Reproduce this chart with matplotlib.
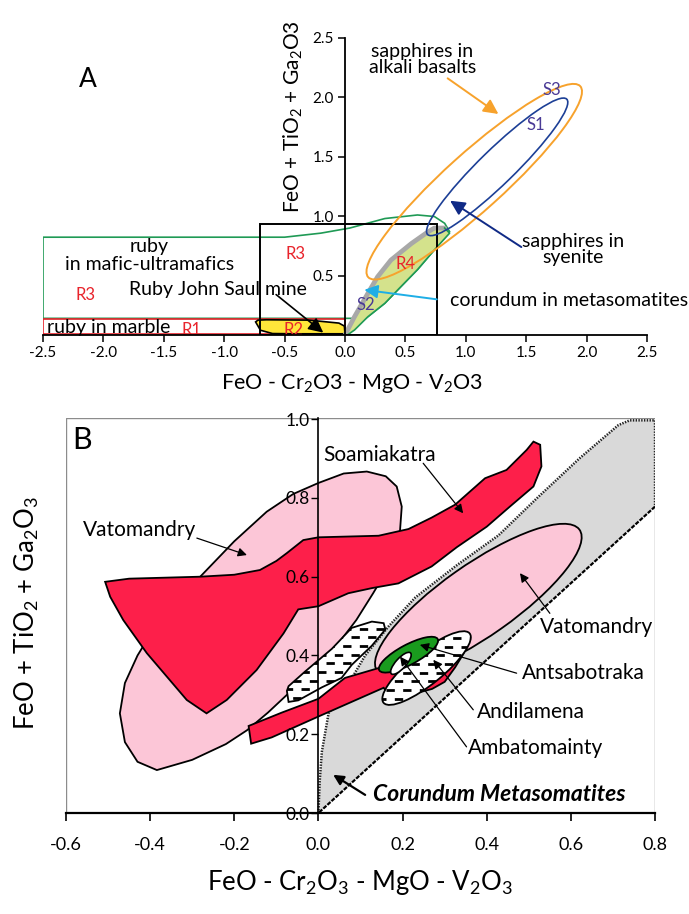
import numpy as np
import matplotlib
matplotlib.use("Agg")
import matplotlib.pyplot as plt
from matplotlib.patches import Polygon, Ellipse, Rectangle

plt.rcParams["font.family"] = ["Lato", "DejaVu Sans"]
plt.rcParams["mathtext.fontset"] = "custom"
plt.rcParams["mathtext.rm"] = "Lato"
plt.rcParams["mathtext.it"] = "Lato:italic"
plt.rcParams["mathtext.default"] = "regular"
plt.rcParams["axes.unicode_minus"] = False
plt.rcParams["lines.scale_dashes"] = False

# =========================
# PANEL A DATA
# =========================
a_xticks = [-2.5, -2.0, -1.5, -1.0, -0.5, 0.0, 0.5, 1.0, 1.5, 2.0, 2.5]
a_xlabels = ["-2.5", "-2.0", "-1.5", "-1.0", "-0.5", "0.0", "0.5", "1.0", "1.5", "2.0", "2.5"]
a_yticks = [0.5, 1.0, 1.5, 2.0, 2.5]
a_ylabels = ["0.5", "1.0", "1.5", "2.0", "2.5"]

# ruby in mafic-ultramafics (R3 field, green outline)
mafic_x = [-2.5, -2.5, -0.5, -0.2, 0.04, 0.33, 0.6, 0.74, 0.825, 0.866, 0.74, 0.6, 0.466, 0.33, 0.19, 0.17, 0.0]
mafic_y = [0.14, 0.823, 0.823, 0.857, 0.9, 0.98, 1.01, 0.997, 0.94, 0.87, 0.716, 0.55, 0.41, 0.267, 0.154, 0.14, 0.14]

# ruby in marble (R1 field)
marble_x = [-2.5, 0.0]
marble_y = [0.01, 0.135]

# John Saul mine box
saul_x = [-0.7, 0.76]
saul_y = [0.0, 0.935]

# R2 field (yellow)
r2_x = [-0.74, -0.72, -0.65, -0.3, -0.05, -0.005, 0.0, -0.4, -0.6, -0.7]
r2_y = [0.11, 0.125, 0.128, 0.125, 0.1, 0.075, 0.01, 0.01, 0.012, 0.04]

# corundum in metasomatites (R4 / S2 band)
band_up_x = [0.0, 0.079, 0.19, 0.27, 0.38, 0.55, 0.69, 0.74, 0.825, 0.866]
band_up_y = [0.0, 0.154, 0.351, 0.49, 0.63, 0.77, 0.87, 0.9, 0.9, 0.857]
band_lo_x = [0.74, 0.6, 0.466, 0.33, 0.19, 0.079, 0.02]
band_lo_y = [0.716, 0.55, 0.41, 0.267, 0.154, 0.042, 0.0]

# sapphire fields (ellipses: centre x, centre y, length, width, angle)
s1_field = [1.26, 1.415, 1.62, 0.29, 44.7]
s3_field = [1.07, 1.29, 2.38, 0.48, 42.5]

# =========================
# PANEL B DATA
# =========================
b_xticks = [-0.6, -0.4, -0.2, 0.0, 0.2, 0.4, 0.6, 0.8]
b_xlabels = ["-0.6", "-0.4", "-0.2", "0.0", "0.2", "0.4", "0.6", "0.8"]
b_yticks = [0.0, 0.2, 0.4, 0.6, 0.8, 1.0]
b_ylabels = ["0.0", "0.2", "0.4", "0.6", "0.8", "1.0"]

# Corundum Metasomatites band
meta_top_x = [0.0, 0.003, 0.008, 0.024, 0.071, 0.111, 0.166, 0.23, 0.33, 0.428, 0.52, 0.62, 0.713, 0.74, 0.8]
meta_top_y = [0.0, 0.08, 0.155, 0.253, 0.327, 0.4, 0.473, 0.547, 0.63, 0.705, 0.8, 0.9, 0.985, 0.997, 0.997]
meta_low_x = [0.8, 0.0]
meta_low_y = [0.778, 0.0]

# Vatomandry (left, pink)
vato_x = [-0.384, -0.43, -0.46, -0.472, -0.46, -0.43, -0.39, -0.34, -0.281, -0.2, -0.123, -0.06, 0.0, 0.06,
          0.115, 0.16, 0.186, 0.198, 0.194, 0.17, 0.13, 0.09, 0.04, 0.0, -0.075, -0.12, -0.17, -0.22, -0.3]
vato_y = [0.109, 0.13, 0.18, 0.253, 0.33, 0.4, 0.47, 0.54, 0.6, 0.69, 0.765, 0.81, 0.838, 0.862,
          0.867, 0.855, 0.829, 0.778, 0.719, 0.63, 0.558, 0.49, 0.42, 0.375, 0.3, 0.255, 0.21, 0.175, 0.135]

# Vatomandry (right, ellipse)
vato2_field = [0.38, 0.54, 0.6, 0.18, 37.0]

# Soamiakatra (red)
soam_x = [-0.507, -0.45, -0.281, -0.2, -0.139, -0.1, -0.075, -0.036, 0.0, 0.143, 0.214, 0.269, 0.325, 0.396,
          0.447, 0.495, 0.511, 0.527, 0.53, 0.511, 0.455, 0.4, 0.329, 0.269, 0.19, 0.127, 0.071, 0.0,
          -0.048, -0.083, -0.147, -0.218, -0.266, -0.313, -0.408, -0.464, -0.495]
soam_y = [0.587, 0.595, 0.6, 0.605, 0.617, 0.64, 0.66, 0.693, 0.7, 0.704, 0.721, 0.75, 0.783, 0.85,
          0.871, 0.922, 0.943, 0.935, 0.88, 0.829, 0.778, 0.727, 0.675, 0.626, 0.583, 0.571, 0.558, 0.525,
          0.517, 0.456, 0.363, 0.287, 0.253, 0.287, 0.406, 0.49, 0.549]

# lower red strip
strip_x = [-0.166, -0.16, -0.111, 0.0, 0.155, 0.175, 0.27, 0.3, 0.325, 0.345, 0.35, 0.3, 0.25, 0.2, 0.143,
           0.063, 0.0, -0.087]
strip_y = [0.221, 0.176, 0.192, 0.245, 0.318, 0.288, 0.315, 0.333, 0.37, 0.405, 0.425, 0.41, 0.39, 0.37, 0.368,
           0.343, 0.29, 0.255]

# hatched field (left)
hatch_x = [-0.075, -0.071, -0.032, 0.032, 0.079, 0.127, 0.155, 0.159, 0.127, 0.079, 0.055, 0.008, -0.048, -0.071]
hatch_y = [0.31, 0.322, 0.359, 0.417, 0.47, 0.486, 0.482, 0.466, 0.425, 0.376, 0.343, 0.319, 0.286, 0.282]

# Andilamena, Antsabotraka, Ambatomainty ellipses
andil_field = [0.257, 0.368, 0.27, 0.08, 41.0]
antsa_field = [0.214, 0.402, 0.16, 0.05, 30.0]
ambat_field = [0.196, 0.38, 0.07, 0.025, 50.0]

# =========================
# FIGURE
# =========================
fig = plt.figure(figsize=(6.89, 9.14), dpi=100)

# ---------- panel A ----------
ax = fig.add_axes([0.0624, 0.6335, 0.8766, 0.325])
ax.set_xlim(-2.5, 2.5)
ax.set_ylim(0, 2.5)
ax.spines["top"].set_visible(False)
ax.spines["right"].set_visible(False)
ax.spines["left"].set_position(("data", 0))
for s in ["left", "bottom"]:
    ax.spines[s].set_linewidth(1.3)
    ax.spines[s].set_zorder(8)
ax.xaxis.set_zorder(8)
ax.yaxis.set_zorder(8)
ax.set_xticks(a_xticks, a_xlabels)
ax.set_yticks(a_yticks, a_ylabels)
ax.tick_params(axis="both", direction="out", length=5, width=1.1, labelsize=11, pad=3)

ax.add_patch(Polygon(np.column_stack([mafic_x, mafic_y]), closed=True, fill=False,
                     edgecolor="#1f9a55", lw=1.2, zorder=2))
ax.add_patch(Rectangle((marble_x[0], marble_y[0]), marble_x[1] - marble_x[0], marble_y[1] - marble_y[0],
                       fill=False, edgecolor="#e8242c", lw=1.2, zorder=2))
ax.add_patch(Polygon(np.column_stack([r2_x, r2_y]), closed=True, facecolor="#ffe63a",
                     edgecolor="k", lw=1.2, zorder=3))
ax.add_patch(Rectangle((saul_x[0], saul_y[0]), saul_x[1] - saul_x[0], saul_y[1] - saul_y[0],
                       fill=False, edgecolor="k", lw=1.4, zorder=4))

band = Polygon(np.column_stack([band_up_x + band_lo_x, band_up_y + band_lo_y]), closed=True,
               facecolor="#d4e28c", edgecolor="none", zorder=3)
ax.add_patch(band)
ax.plot(band_up_x[:-1], band_up_y[:-1], color="#a8a8a8", lw=3.4, solid_capstyle="round", zorder=3.5)
ax.plot(band_up_x[-2:] + band_lo_x, band_up_y[-2:] + band_lo_y, color="#1f9a55", lw=1.2, zorder=3.6)

ax.add_patch(Ellipse((s3_field[0], s3_field[1]), s3_field[2], s3_field[3], angle=s3_field[4],
                     fill=False, edgecolor="#f7a22c", lw=1.4, zorder=5))
ax.add_patch(Ellipse((s1_field[0], s1_field[1]), s1_field[2], s1_field[3], angle=s1_field[4],
                     fill=False, edgecolor="#1c3f96", lw=1.2, zorder=5))

# arrows A
ax.annotate("", xy=(1.27, 1.86), xytext=(0.85, 2.16),
            arrowprops=dict(arrowstyle="-|>", color="#f7a22c", lw=1.4, mutation_scale=22,
                            shrinkA=0, shrinkB=0), zorder=6)
ax.annotate("", xy=(0.87, 1.13), xytext=(1.46, 0.74),
            arrowprops=dict(arrowstyle="-|>", color="#102a86", lw=1.4, mutation_scale=22,
                            shrinkA=0, shrinkB=0), zorder=6)
ax.annotate("", xy=(0.16, 0.38), xytext=(0.76, 0.3),
            arrowprops=dict(arrowstyle="-|>", color="#1eaee6", lw=1.4, mutation_scale=20,
                            shrinkA=0, shrinkB=0), zorder=6)
ax.annotate("", xy=(-0.18, 0.02), xytext=(-0.57, 0.34),
            arrowprops=dict(arrowstyle="-|>", color="k", lw=1.2, mutation_scale=22,
                            shrinkA=0, shrinkB=0), zorder=6)

# texts A
fs_a = 14
ax.text(-2.13, 2.15, "A", fontsize=19, ha="center", va="center")
ax.text(0.64, 2.32, "sapphires in\nalkali basalts", fontsize=fs_a, ha="center", va="center", linespacing=0.95)
ax.text(1.89, 0.72, "sapphires in\nsyenite", fontsize=fs_a, ha="center", va="center", linespacing=0.95)
ax.text(0.87, 0.29, "corundum in metasomatites", fontsize=fs_a, ha="left", va="center")
ax.text(-1.62, 0.745, "ruby", fontsize=fs_a, ha="center", va="center")
ax.text(-1.62, 0.59, "in mafic-ultramafics", fontsize=fs_a, ha="center", va="center")
ax.text(-1.05, 0.38, "Ruby John Saul mine", fontsize=fs_a, ha="center", va="center")
ax.text(-2.47, 0.065, "ruby in marble", fontsize=fs_a, ha="left", va="center")
for lx, ly, lt, lc in [(-2.15, 0.34, "R3", "#e8242c"), (-0.41, 0.68, "R3", "#e8242c"),
                       (-1.27, 0.04, "R1", "#e8242c"), (-0.43, 0.04, "R2", "#e8242c"),
                       (0.5, 0.6, "R4", "#e8242c"), (1.71, 2.06, "S3", "#4a3a96"),
                       (1.58, 1.77, "S1", "#4a3a96"), (0.175, 0.25, "S2", "#4a3a96")]:
    ax.text(lx, ly, lt, fontsize=12, color=lc, ha="center", va="center", zorder=7)

ax.text(0.512, -0.162, r"FeO - Cr$_2$O3 - MgO - V$_2$O3", transform=ax.transAxes,
        fontsize=15.5, ha="center", va="center")
ax.text(0.414, 0.734, r"FeO + TiO$_2$ + Ga$_2$O3", transform=ax.transAxes,
        fontsize=15, ha="center", va="center", rotation=90)

# ---------- panel B ----------
bx = fig.add_axes([0.0958, 0.1105, 0.8549, 0.4322])
bx.set_xlim(-0.6, 0.8)
bx.set_ylim(0, 1.003)
for s in ["top", "right"]:
    bx.spines[s].set_visible(False)
bx.spines["left"].set_position(("data", 0))
bx.spines["left"].set_linewidth(1.2)
bx.spines["bottom"].set_linewidth(1.6)
for s in ["left", "bottom"]:
    bx.spines[s].set_zorder(8)
bx.xaxis.set_zorder(8)
bx.yaxis.set_zorder(8)
bx.add_patch(Rectangle((0, 0), 1, 1, transform=bx.transAxes, fill=False, edgecolor="#8c8c8c",
                       lw=1.0, zorder=0.5))
bx.set_xticks(b_xticks, b_xlabels)
bx.set_yticks(b_yticks, b_ylabels)
bx.tick_params(axis="x", direction="out", length=6, width=1.2, labelsize=13, pad=11)
bx.tick_params(axis="y", direction="out", length=5, width=1.0, labelsize=12.5, pad=1)

meta = Polygon(np.column_stack([meta_top_x + meta_low_x, meta_top_y + meta_low_y]), closed=True,
               facecolor="#d9d9d9", edgecolor="none", zorder=1)
bx.add_patch(meta)
bx.plot(meta_top_x + [meta_low_x[0]], meta_top_y + [meta_low_y[0]], color="#222222", lw=1.8,
        dashes=(1.0, 1.0), zorder=1.2)
bx.plot(meta_low_x, meta_low_y, color="k", lw=1.6, dashes=(3.0, 1.0), zorder=1.2)

bx.add_patch(Polygon(np.column_stack([vato_x, vato_y]), closed=True, facecolor="#fcc6d7",
                     edgecolor="k", lw=1.3, zorder=2))
bx.add_patch(Ellipse((vato2_field[0], vato2_field[1]), vato2_field[2], vato2_field[3], angle=vato2_field[4],
                     facecolor="#fcc6d7", edgecolor="k", lw=1.3, zorder=2))
bx.add_patch(Polygon(np.column_stack([soam_x, soam_y]), closed=True, facecolor="#fd1f4a",
                     edgecolor="k", lw=1.3, zorder=3))
bx.add_patch(Polygon(np.column_stack([strip_x, strip_y]), closed=True, facecolor="#fd1f4a",
                     edgecolor="k", lw=1.3, zorder=3))


def add_dashes(axis, patch, x0, x1, y0, y1, step, z):
    # rows of short dashes clipped to the field outline
    for i, yy in enumerate(np.arange(y0, y1, step)):
        ln, = axis.plot([x0, x1], [yy, yy], color="k", lw=2.0,
                        linestyle=(6 * (i % 2), (6, 6)), dash_capstyle="butt", zorder=z)
        ln.set_clip_path(patch)


hatch = Polygon(np.column_stack([hatch_x, hatch_y]), closed=True, facecolor="white",
                edgecolor="k", lw=1.3, zorder=4)
bx.add_patch(hatch)
add_dashes(bx, hatch, -0.1, 0.2, 0.292, 0.5, 0.022, 4.1)

andil = Ellipse((andil_field[0], andil_field[1]), andil_field[2], andil_field[3], angle=andil_field[4],
                facecolor="white", edgecolor="k", lw=1.3, zorder=4)
bx.add_patch(andil)
add_dashes(bx, andil, 0.1, 0.4, 0.29, 0.46, 0.022, 4.1)
bx.add_patch(Ellipse((antsa_field[0], antsa_field[1]), antsa_field[2], antsa_field[3], angle=antsa_field[4],
                     facecolor="#1a9b1e", edgecolor="k", lw=1.3, zorder=5))
bx.add_patch(Ellipse((ambat_field[0], ambat_field[1]), ambat_field[2], ambat_field[3], angle=ambat_field[4],
                     facecolor="white", edgecolor="k", lw=1.2, zorder=5.5))

# arrows B
b_arrows = [((-0.17, 0.655), (-0.289, 0.698)), ((0.344, 0.761), (0.249, 0.888)),
            ((0.479, 0.609), (0.55, 0.507)), ((0.241, 0.427), (0.471, 0.355)),
            ((0.273, 0.389), (0.368, 0.262)), ((0.194, 0.397), (0.352, 0.168))]
for head, tail in b_arrows:
    bx.annotate("", xy=head, xytext=tail,
                arrowprops=dict(arrowstyle="-|>", color="k", lw=0.9, mutation_scale=13,
                                shrinkA=0, shrinkB=0), zorder=6)
bx.annotate("", xy=(0.035, 0.097), xytext=(0.111, 0.046),
            arrowprops=dict(arrowstyle="-|>", color="k", lw=1.6, mutation_scale=15,
                            shrinkA=0, shrinkB=0), zorder=6)

fs_b = 15
bx.text(-0.563, 0.947, "B", fontsize=22, ha="center", va="center")
bx.text(-0.424, 0.719, "Vatomandry", fontsize=fs_b, ha="center", va="center")
bx.text(0.011, 0.909, "Soamiakatra", fontsize=fs_b, ha="left", va="center")
bx.text(0.527, 0.473, "Vatomandry", fontsize=fs_b, ha="left", va="center")
bx.text(0.483, 0.355, "Antsabotraka", fontsize=fs_b, ha="left", va="center")
bx.text(0.376, 0.257, "Andilamena", fontsize=fs_b, ha="left", va="center")
bx.text(0.356, 0.164, "Ambatomainty", fontsize=fs_b, ha="left", va="center")
bx.text(0.13, 0.046, "Corundum Metasomatites", fontsize=16.5, ha="left", va="center",
        fontweight="bold", fontstyle="italic")

bx.text(0.5, -0.177, r"FeO - Cr$_2$O$_3$ - MgO - V$_2$O$_3$", transform=bx.transAxes,
        fontsize=18.5, ha="center", va="center")
bx.text(-0.066, 0.506, r"FeO + TiO$_2$ + Ga$_2$O$_3$", transform=bx.transAxes,
        fontsize=18.5, ha="center", va="center", rotation=90)

fig.savefig("out.png", dpi=100)
